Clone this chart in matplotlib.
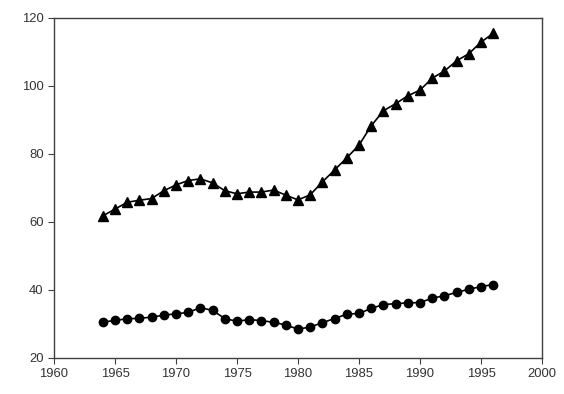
import matplotlib
matplotlib.use("Agg")
import matplotlib.pyplot as plt

plt.rcParams["font.family"] = ["Liberation Sans", "DejaVu Sans"]

years = list(range(1964, 1997))

upper = [61.8, 63.8, 65.8, 66.4, 66.9, 69.2, 70.9, 72.2, 72.7, 71.5,
         69.2, 68.3, 68.8, 68.8, 69.4, 67.9, 66.5, 68.0, 71.8, 75.3,
         78.9, 82.6, 88.3, 92.7, 94.8, 97.1, 98.8, 102.3, 104.4, 107.4,
         109.5, 112.9, 115.5]

lower = [30.5, 31.1, 31.5, 31.7, 32.0, 32.6, 33.0, 33.4, 34.8, 34.0,
         31.6, 30.8, 31.3, 31.0, 30.5, 29.7, 28.5, 29.1, 30.4, 31.6,
         32.9, 33.1, 34.6, 35.7, 36.0, 36.2, 36.3, 37.6, 38.3, 39.3,
         40.2, 41.0, 41.6]

fig = plt.figure(figsize=(5.64, 3.94), dpi=100)
ax = fig.add_axes([54 / 564, 1 - 358 / 394, 488 / 564, 340 / 394])

ax.plot(years, upper, "k-", marker="^", markersize=6.8, linewidth=1.2)
ax.plot(years, lower, "k-", marker="o", markersize=6.0, linewidth=1.2)

ax.set_xlim(1960, 2000)
ax.set_ylim(20, 120)
ax.set_xticks(range(1960, 2001, 5))
ax.set_yticks(range(20, 121, 20))

for s in ax.spines.values():
    s.set_color("#404040")
    s.set_linewidth(1)
ax.tick_params(direction="out", length=4, color="#404040", labelsize=9.4,
               labelcolor="#333333")

fig.savefig("out.png", dpi=100)
